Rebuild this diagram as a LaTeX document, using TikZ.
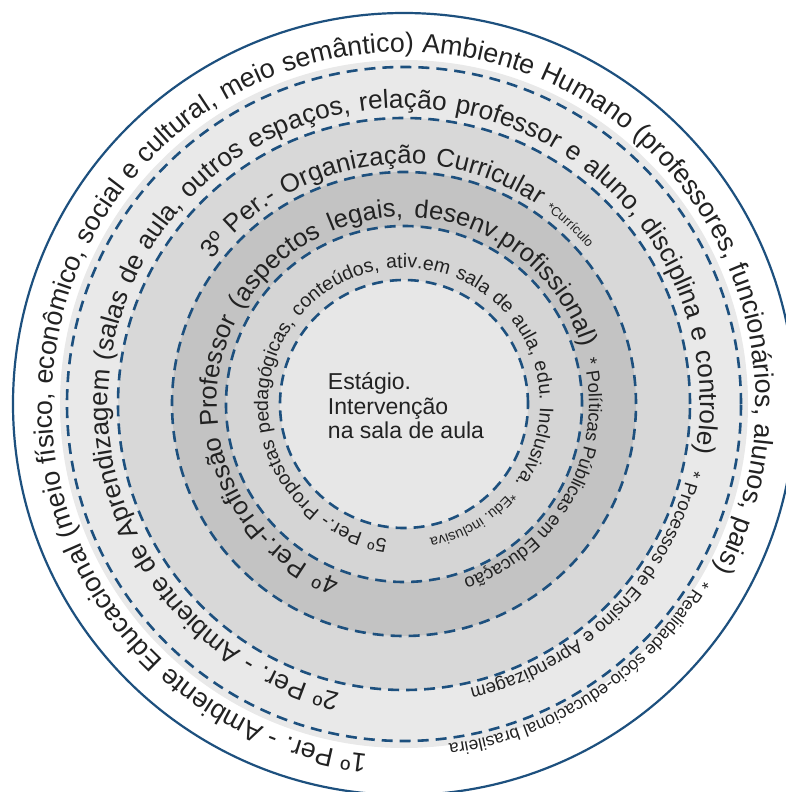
\documentclass[tikz,border=0pt]{standalone}
\usepackage{fontspec}
\setmainfont{Liberation Sans}
\usepackage{tikz}
\usetikzlibrary{decorations.text}

\newcommand{\ringsize}[1]{\fontsize{#1}{#1}\selectfont}
\newcommand{\centertext}{\fontsize{23}{24.5}\selectfont}

\tikzset{
    ringline/.style = {draw=1D507E, line width=2.6pt, dash pattern=on 11pt off 7pt},
    ringtext/.style = {decorate, decoration = {text along path, text color=222222, text align = {fit to path stretching spaces}, text = {#1}}},
    smalltext/.style = {decorate, decoration = {text along path, text color=222222, text align = left, text = {#1}}},
}

\begin{document}
\begin{tikzpicture}[x = 1pt, y = 1pt]
    \definecolor{FFFFFF}{RGB}{255,255,255}
    \definecolor{1D507E}{RGB}{29,80,126}
    \definecolor{222222}{RGB}{34,34,34}
    \definecolor{E9E9E9}{RGB}{233,233,233}
    \definecolor{D8D8D8}{RGB}{216,216,216}
    \definecolor{C3C3C3}{RGB}{195,195,195}
    \definecolor{D5D5D5}{RGB}{213,213,213}
    \definecolor{E7E7E7}{RGB}{231,231,231}
    \clip (-404,-388) rectangle (382,404);
    \fill [FFFFFF] (-404,-388) rectangle (382,404);
    \draw [draw=1D507E, line width=2.2pt, fill=FFFFFF] (0,0) circle [radius=391pt];
    \fill [E9E9E9] (0,0) circle [radius=344pt];
    \fill [D8D8D8] (0,0) circle [radius=286pt];
    \fill [C3C3C3] (0,0) circle [radius=232pt];
    \fill [D5D5D5] (0,0) circle [radius=178pt];
    \fill [E7E7E7] (0,0) circle [radius=124pt];
    \draw [ringline] (0,0) circle [radius=337pt];
    \draw [ringline] (0,0) circle [radius=286pt];
    \draw [ringline] (0,0) circle [radius=232pt];
    \draw [ringline] (0,0) circle [radius=178pt];
    \draw [ringline] (0,0) circle [radius=124pt];
    \path [ringtext = {|\ringsize{26.8}|1º Per. - Ambiente Educacional (meio físico, econômico, social e cultural, meio semântico) Ambiente Humano (professores, funcionários, alunos, pais)}] (264:352pt) arc [start angle = 264, end angle = -28, radius = 352pt];
    \path [smalltext = {|\ringsize{17.5}|* Realidade sócio-educacional brasileira}] (-30.5:343pt) arc [start angle = -30.5, end angle = -95, radius = 343pt];
    \path [ringtext = {|\ringsize{26.2}|2º Per. - Ambiente de Aprendizagem (salas de aula, outros espaços, relação professor e aluno, disciplina e controle)}] (257.5:296pt) arc [start angle = 257.5, end angle = -9.5, radius = 296pt];
    \path [smalltext = {|\ringsize{18.5}|* Processos de Ensino e Aprendizagem}] (-13:292pt) arc [start angle = -13, end angle = -90, radius = 292pt];
    \path [ringtext = {|\ringsize{25.7}|3º Per.- Organização Curricular}] (143:240pt) arc [start angle = 143, end angle = 56, radius = 240pt];
    \path [smalltext = {|\ringsize{13}|*Currículo}] (54:241pt) arc [start angle = 54, end angle = 30, radius = 241pt];
    \path [ringtext = {|\ringsize{25.5}|4º Per.-Profissão Professor (aspectos legais, desenv.profissional)}] (250:187pt) arc [start angle = 250, end angle = 17.5, radius = 187pt];
    \path [smalltext = {|\ringsize{18.5}|* Políticas Públicas em Educação}] (14:185pt) arc [start angle = 14, end angle = -85, radius = 185pt];
    \path [ringtext = {|\ringsize{19.5}|5º Per.- Propostas pedagógicas, conteúdos, ativ.em sala de aula, edu. Inclusiva.}] (263:136pt) arc [start angle = 263, end angle = -35.5, radius = 136pt];
    \path [smalltext = {|\ringsize{14.5}|*Edu. inclusiva}] (-39.5:137pt) arc [start angle = -39.5, end angle = -95, radius = 137pt];
    \node (ID_Estagio) [align = left, font = \centertext, text = 222222, inner sep = 0] at (2,-2) {Estágio.\\Intervenção\\na sala de aula};
\end{tikzpicture}
\end{document}
